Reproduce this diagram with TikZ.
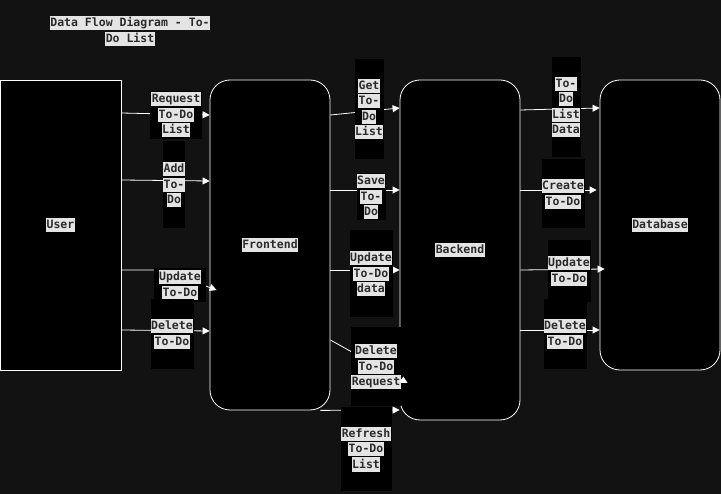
\documentclass[tikz,border=0pt]{standalone}
\usepackage{fontspec}
\setmonofont{DejaVu Sans Mono}
\usetikzlibrary{arrows.meta,calc}

\definecolor{canvas}{HTML}{121212}
\definecolor{hlgray}{HTML}{E4E4E4}
\definecolor{ink}{HTML}{2B2B2B}
\setlength{\fboxsep}{0.5pt}
\newcommand{\hl}[1]{\colorbox{hlgray}{\rule[-3pt]{0pt}{13pt}\textcolor{ink}{#1}}}

\tikzset{
  txt/.style={font=\ttfamily\bfseries\fontsize{11.5}{15.5}\selectfont},
  block/.style={txt, draw=white, fill=black, line width=0.8pt, minimum width=120pt},
  store/.style={block, rounded corners=20pt},
  flowlbl/.style={txt, fill=black, inner sep=0pt, align=center},
  flow/.style={->, color=white, line width=0.8pt}
}

\begin{document}
\begin{tikzpicture}[x=1pt, y=-1pt, >={Triangle[length=7pt,width=7pt]}]

  \fill[canvas] (0,0) rectangle (721,494);
  \useasboundingbox (0,0) rectangle (721,494);

  \node[txt, align=center, inner sep=0pt] (title) at (130,31) {\hl{Data Flow Diagram - To-}\\\hl{Do List}};

  \node[block, minimum width=121pt, minimum height=290pt] (user)     at (60.5,225) {\hl{User}};
  \node[store, minimum height=330pt]                      (frontend) at (270,245)  {\hl{Frontend}};
  \node[store, minimum height=340pt]                      (backend)  at (460,250)  {\hl{Backend}};
  \node[store, minimum height=290pt]                      (database) at (660,225)  {\hl{Database}};

  \path[flow] (user.east |- 0,113) edge (frontend.west |- 0,115)
              (user.east |- 0,180) edge (frontend.west |- 0,181)
              (user.east |- 0,330) edge (frontend.west |- 0,331)
              (frontend.east |- 0,115) edge (backend.west |- 0,108)
              (frontend.east |- 0,190) edge (backend.west |- 0,190)
              (frontend.east |- 0,270) edge (backend.west |- 0,270)
              (frontend.east |- 0,340) edge ($(backend.west |- 0,383)+(8,0)$)
              ($(frontend.south east)+(-10,0)$) edge (backend.west |- 0,410)
              (backend.east |- 0,110) edge (database.west |- 0,108)
              (backend.east |- 0,190) edge ($(database.west |- 0,190)+(-3,0)$)
              (backend.east |- 0,270) edge ($(database.west |- 0,269)+(5,0)$)
              (backend.east |- 0,330) edge (database.west |- 0,330);
  \draw[flow] (user.east |- 0,270) -- (162,270) -- ($(frontend.west |- 0,290)+(7,0)$);

  \node[flowlbl, minimum width=52pt, minimum height=48pt] (lreq)     at (176,115) {\hl{Request}\\\hl{To-Do}\\\hl{List}};
  \node[flowlbl, minimum width=22pt, minimum height=87pt] (ladd)     at (174,185) {\hl{Add}\\\hl{To-}\\\hl{Do}};
  \node[flowlbl, minimum width=52pt, minimum height=34pt] (lupd)     at (180,285) {\hl{Update}\\\hl{To-Do}};
  \node[flowlbl, minimum width=43pt, minimum height=70pt] (ldel)     at (172,334) {\hl{Delete}\\\hl{To-Do}};

  \node[flowlbl, minimum width=29pt, minimum height=100pt] (lget)    at (369,109) {\hl{Get}\\\hl{To-}\\\hl{Do}\\\hl{List}};
  \node[flowlbl, minimum width=29pt, minimum height=47pt]  (lsave)   at (371,197) {\hl{Save}\\\hl{To-}\\\hl{Do}};
  \node[flowlbl, minimum width=43pt, minimum height=87pt]  (lupdata) at (371,274) {\hl{Update}\\\hl{To-Do}\\\hl{data}};
  \node[flowlbl, minimum width=48pt, minimum height=79pt]  (ldelreq) at (376,367) {\hl{Delete}\\\hl{To-Do}\\\hl{Request}};
  \node[flowlbl, minimum width=51pt, minimum height=84pt]  (lrefr)   at (366,449) {\hl{Refresh}\\\hl{To-Do}\\\hl{List}};

  \node[flowlbl, minimum width=29pt, minimum height=100pt] (llist)   at (566,107) {\hl{To-}\\\hl{Do}\\\hl{List}\\\hl{Data}};
  \node[flowlbl, minimum width=43pt, minimum height=69pt]  (lcreate) at (563,194) {\hl{Create}\\\hl{To-Do}};
  \node[flowlbl, minimum width=43pt, minimum height=62pt]  (lupdb)   at (569,271) {\hl{Update}\\\hl{To-Do}};
  \node[flowlbl, minimum width=43pt, minimum height=70pt]  (ldeldb)  at (565,334) {\hl{Delete}\\\hl{To-Do}};

\end{tikzpicture}
\end{document}
